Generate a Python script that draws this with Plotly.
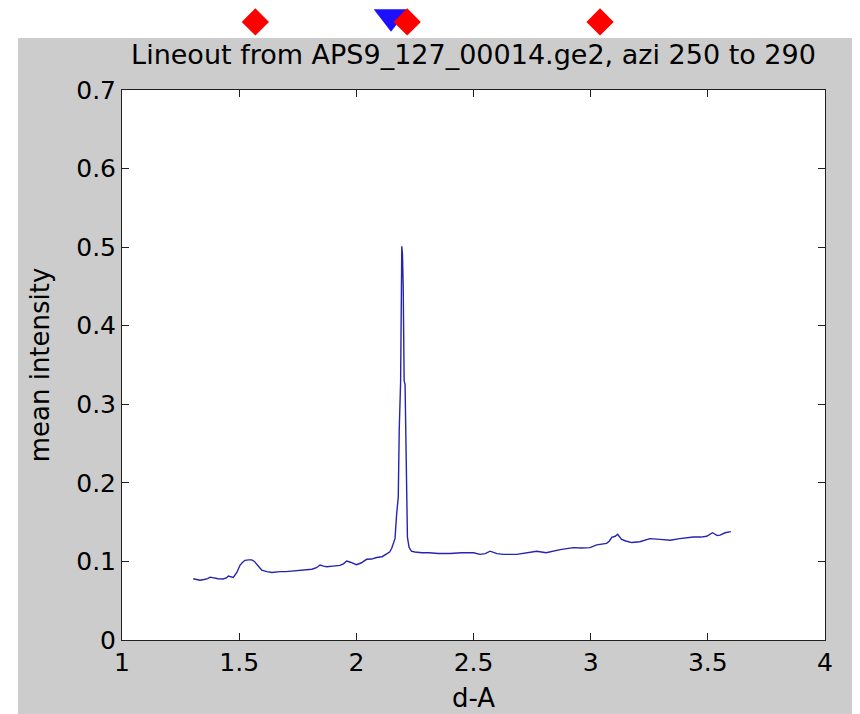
import plotly.graph_objects as go

# Lineout data (d-spacing in Angstrom, mean intensity)
d_A = [1.304, 1.318, 1.333, 1.350, 1.365, 1.376, 1.392, 1.410, 1.432, 1.445, 1.454, 1.465,
       1.475, 1.490, 1.504, 1.515, 1.525, 1.540, 1.554, 1.565, 1.575, 1.586, 1.596, 1.607,
       1.618, 1.640, 1.660, 1.674, 1.700, 1.731, 1.760, 1.788, 1.810, 1.830, 1.845, 1.860,
       1.874, 1.900, 1.930, 1.945, 1.959, 1.975, 1.990, 2.000, 2.020, 2.044, 2.065, 2.087,
       2.110, 2.130, 2.142, 2.151, 2.158, 2.165, 2.172, 2.179, 2.183, 2.189, 2.194, 2.197,
       2.200, 2.204, 2.208, 2.212, 2.218, 2.225, 2.235, 2.250, 2.280, 2.310, 2.350, 2.400,
       2.450, 2.500, 2.528, 2.550, 2.571, 2.600, 2.627, 2.684, 2.730, 2.770, 2.810, 2.840,
       2.870, 2.926, 2.960, 2.997, 3.026, 3.068, 3.080, 3.090, 3.105, 3.115, 3.132, 3.150,
       3.175, 3.210, 3.230, 3.253, 3.296, 3.340, 3.380, 3.410, 3.438, 3.470, 3.495, 3.520,
       3.540, 3.552, 3.574, 3.598]
intensity = [0.078, 0.077, 0.076, 0.077, 0.078, 0.080, 0.079, 0.078, 0.0776, 0.079, 0.0814, 0.080,
             0.0797, 0.086, 0.0954, 0.099, 0.1014, 0.102, 0.102, 0.100, 0.0963, 0.092, 0.089, 0.088,
             0.087, 0.086, 0.087, 0.087, 0.087, 0.088, 0.089, 0.0895, 0.090, 0.092, 0.0954, 0.094,
             0.0933, 0.094, 0.095, 0.097, 0.1005, 0.099, 0.097, 0.0958, 0.098, 0.1027, 0.103, 0.105,
             0.106, 0.110, 0.112, 0.1167, 0.122, 0.129, 0.160, 0.182, 0.267, 0.329, 0.501, 0.490,
             0.450, 0.330, 0.325, 0.212, 0.131, 0.118, 0.113, 0.112, 0.111, 0.111, 0.110, 0.110,
             0.111, 0.111, 0.109, 0.110, 0.113, 0.110, 0.109, 0.109, 0.111, 0.113, 0.111, 0.113,
             0.115, 0.1175, 0.117, 0.1175, 0.121, 0.123, 0.126, 0.1307, 0.132, 0.1345, 0.128, 0.126,
             0.124, 0.125, 0.127, 0.129, 0.128, 0.127, 0.129, 0.130, 0.131, 0.131, 0.132, 0.1365,
             0.133, 0.1335, 0.1365, 0.138]

# Peak markers drawn in the strip above the axes (position along d, level in strip units 0..1)
ref_peaks_d = [1.569, 2.217, 3.04]
ref_peak_level = [0.978, 0.978, 0.978]
fit_peak_d = [2.148]
fit_peak_level = [0.986]

x_ticks = [1, 1.5, 2, 2.5, 3, 3.5, 4]
y_ticks = [0, 0.1, 0.2, 0.3, 0.4, 0.5, 0.6, 0.7]

FONT_FAMILY = "DejaVu Sans, Liberation Sans, Arial, sans-serif"

fig = go.Figure()
fig.add_trace(go.Scatter(x=d_A, y=intensity, mode="lines",
                         line=dict(color="#2424b0", width=1.4), showlegend=False,
                         xaxis="x", yaxis="y"))
fig.add_trace(go.Scatter(x=fit_peak_d, y=fit_peak_level, mode="markers",
                         marker=dict(symbol="triangle-down", size=30, color="#1c10ff",
                                     line=dict(width=0)),
                         cliponaxis=False, showlegend=False, xaxis="x", yaxis="y2"))
fig.add_trace(go.Scatter(x=ref_peaks_d, y=ref_peak_level, mode="markers",
                         marker=dict(symbol="diamond", size=21, color="#ff0000",
                                     line=dict(width=0)),
                         cliponaxis=False, showlegend=False, xaxis="x", yaxis="y2"))

tick_font = dict(family=FONT_FAMILY, size=25, color="#000000")
title_font = dict(family=FONT_FAMILY, size=26, color="#000000")
main_title_font = dict(family=FONT_FAMILY, size=27, color="#000000")
axis_common = dict(showline=True, linecolor="#202020", linewidth=1, mirror="ticks",
                   ticks="inside", ticklen=7, tickcolor="#202020", showgrid=False,
                   zeroline=False, tickfont=tick_font)

fig.update_layout(
    width=852, height=706,
    margin=dict(l=114, r=35, t=0, b=74, autoexpand=False),
    paper_bgcolor="#cccccc",
    plot_bgcolor="rgba(0,0,0,0)",
    title=dict(text="Lineout from APS9_127_00014.ge2, azi 250 to 290",
               x=0.5, xanchor="center", xref="paper", yref="container",
               y=0.9334, yanchor="middle", font=main_title_font),
    xaxis=dict(range=[1, 4], tickvals=x_ticks, ticktext=[str(v) for v in x_ticks],
               title=dict(text="d-A", font=title_font, standoff=12), **axis_common),
    yaxis=dict(domain=[0, 0.8703], range=[0, 0.7], tickvals=y_ticks,
               ticktext=[str(v) for v in y_ticks],
               title=dict(text="mean intensity", font=title_font, standoff=19), **axis_common),
    yaxis2=dict(domain=[0, 1], range=[0, 1], anchor="x", visible=False, fixedrange=True),
    shapes=[
        dict(type="rect", xref="x domain", yref="y domain", x0=0, x1=1, y0=0, y1=1,
             fillcolor="#ffffff", line=dict(width=0), layer="below"),
        dict(type="rect", xref="paper", yref="paper", x0=-0.3, x1=1.2, y0=0.9525, y1=1.1,
             fillcolor="#ffffff", line=dict(width=0), layer="below"),
        dict(type="rect", xref="paper", yref="paper", x0=-0.3, x1=-0.1479, y0=-0.2, y1=1.1,
             fillcolor="#ffffff", line=dict(width=0), layer="below"),
    ],
)

fig.write_html("out.html")
